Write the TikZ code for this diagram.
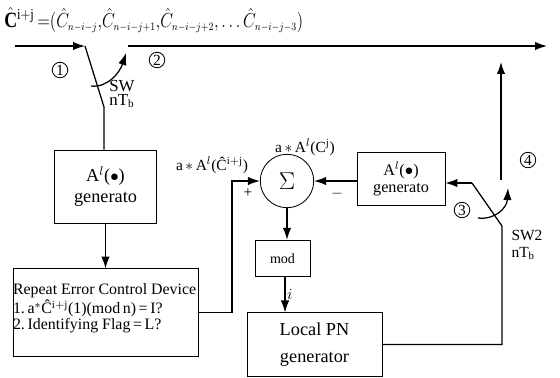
\documentclass[tikz,border=0pt]{standalone}
\usepackage{graphicx}
\usepackage{fontspec}
\setmainfont{Liberation Serif}
\usetikzlibrary{positioning,arrows.meta,calc}
\tikzset{
  blk/.style={draw,line width=0.6pt,align=center,inner sep=1pt},
  sumc/.style={circle,draw,line width=0.6pt,minimum size=38pt,inner sep=0pt,font=\fontsize{17}{17}\selectfont},
  hrana/.style={line width=0.9pt},
  sip/.style={-{Latex[length=8.5pt,width=6pt]},line width=0.9pt},
  cis/.style={circle,draw,line width=0.6pt,inner sep=0.5pt,minimum size=11pt,font=\fontsize{11}{11}\selectfont},
  lbl/.style={inner sep=0pt,font=\fontsize{11}{11}\selectfont},
}
\newcommand{\ix}[1]{_{\scriptscriptstyle #1}}

\begin{document}
\begin{tikzpicture}[x=0.025cm,y=-0.025cm]
  \useasboundingbox (0,0) rectangle (560,377);
  % vstupni posloupnost
  \node[anchor=west,inner sep=0pt,font=\fontsize{15.5}{16}\selectfont] (tit) at (4,20)
    {\scalebox{0.82}[1]{$\hat{\mathbf{C}}^{\mathrm{i+j}}\,{=}(\hat{C}\ix{n{-}i{-}j}{,}\hat{C}\ix{n{-}i{-}j{+}1}{,}\hat{C}\ix{n{-}i{-}j{+}2}{,}\ldots\hat{C}\ix{n{-}i{-}j{-}3})$}};
  % bloky
  \node[blk,minimum width=72pt,minimum height=52pt,font=\fontsize{13}{15}\selectfont] (agen) at (105.5,186.5) {A$^{l}$($\bullet$)\\generato};
  \node[blk,minimum width=132pt,minimum height=62pt] (rec) at (106,312.5) {};
  \node[anchor=north west,inner sep=0pt,align=left,font=\fontsize{11.3}{10}\selectfont] (rtxt) at (rec.north west)
    {\rule{0pt}{18pt}Repeat Error Control Device\\[1pt]
     1.\,a$^{*}$\^{C}$^{\mathrm{i+j}}$(1)(mod\,n)\,=\,I?\\
     2.\,Identifying Flag\,=\,L?};
  \node[sumc] (sum) at (287,181) {$\Sigma$};
  \node[blk,minimum width=62.6pt,minimum height=37.7pt,font=\fontsize{11.5}{12}\selectfont] (bgen) at (401,178.5) {A$^{l}$($\bullet$)\\generato};
  \node[blk,minimum width=39pt,minimum height=26pt,font=\fontsize{10}{10}\selectfont] (mod) at (282.5,258.5) {mod};
  \node[blk,minimum width=96pt,minimum height=45pt,font=\fontsize{13}{19}\selectfont] (pn) at (314.5,344.5) {Local PN\\generator};
  % spinac SW
  \coordinate (in) at (15,46);
  \coordinate (s1a) at (85,46);
  \coordinate (s1b) at (104,107);
  \coordinate (o1) at (128,46);
  \coordinate (o2) at (547,46);
  \coordinate (a1s) at (91,86);
  \coordinate (a1e) at (126,53);
  \draw[sip] (in) -- (s1a);
  \draw[hrana] (s1a) -- (s1b) -- (s1b |- agen.north);
  \draw[sip] (o1) -- (o2);
  \draw[sip] (a1s) .. controls (108,88) and (120,72) .. (a1e);
  \node[cis] (n1) at (60,70) {1};
  \node[cis] (n2) at (157,60) {2};
  \node[lbl,align=left,font=\fontsize{12}{10}\selectfont] (sw1) at (122,94) {SW\\nT$_{\mathrm{b}}$};
  % vetev dolu a do souctu
  \draw[sip] (agen.south) -- (rec.north -| agen.south);
  \coordinate (k1) at (232,312.5);
  \draw[sip] (rec.east) -- (k1) |- (sum.west);
  \draw[sip] (bgen.west |- sum.east) -- (sum.east);
  \draw[sip] (sum.south) -- (sum.south |- mod.north);
  \draw[sip] (mod.south -| 285,0) -- (pn.north -| 285,0) node[midway,right=1pt,lbl] (il) {$i$};
  \node[lbl] (plus) at (248,193) {+};
  \node[lbl] (minus) at (337,194) {$-$};
  \node[lbl] (lab1) at (212,165) {a\,$\ast$\,A$^{l}$(\^{C}$^{\mathrm{i+j}}$)};
  \node[lbl] (lab2) at (305,147) {a\,$\ast$\,A$^{l}$(C$^{\mathrm{j}}$)};
  % spinac SW2
  \coordinate (s2a) at (502,226);
  \coordinate (s2b) at (472,183);
  \coordinate (u1) at (501,180);
  \coordinate (u2) at (501,62);
  \coordinate (a2s) at (478,218);
  \coordinate (a2e) at (508,188);
  \draw[hrana] (pn.east) -| (s2a) -- (s2b);
  \draw[sip] (s2b) -- (s2b -| bgen.east);
  \draw[sip] (u1) -- (u2);
  \draw[sip] (a2s) .. controls (495,220) and (507,208) .. (a2e);
  \node[cis] (n3) at (462,210) {3};
  \node[cis] (n4) at (528,160) {4};
  \node[lbl,align=left,font=\fontsize{11}{11.5}\selectfont] (sw2) at (527,245) {SW2\\nT$_{\mathrm{b}}$};
\end{tikzpicture}
\end{document}
